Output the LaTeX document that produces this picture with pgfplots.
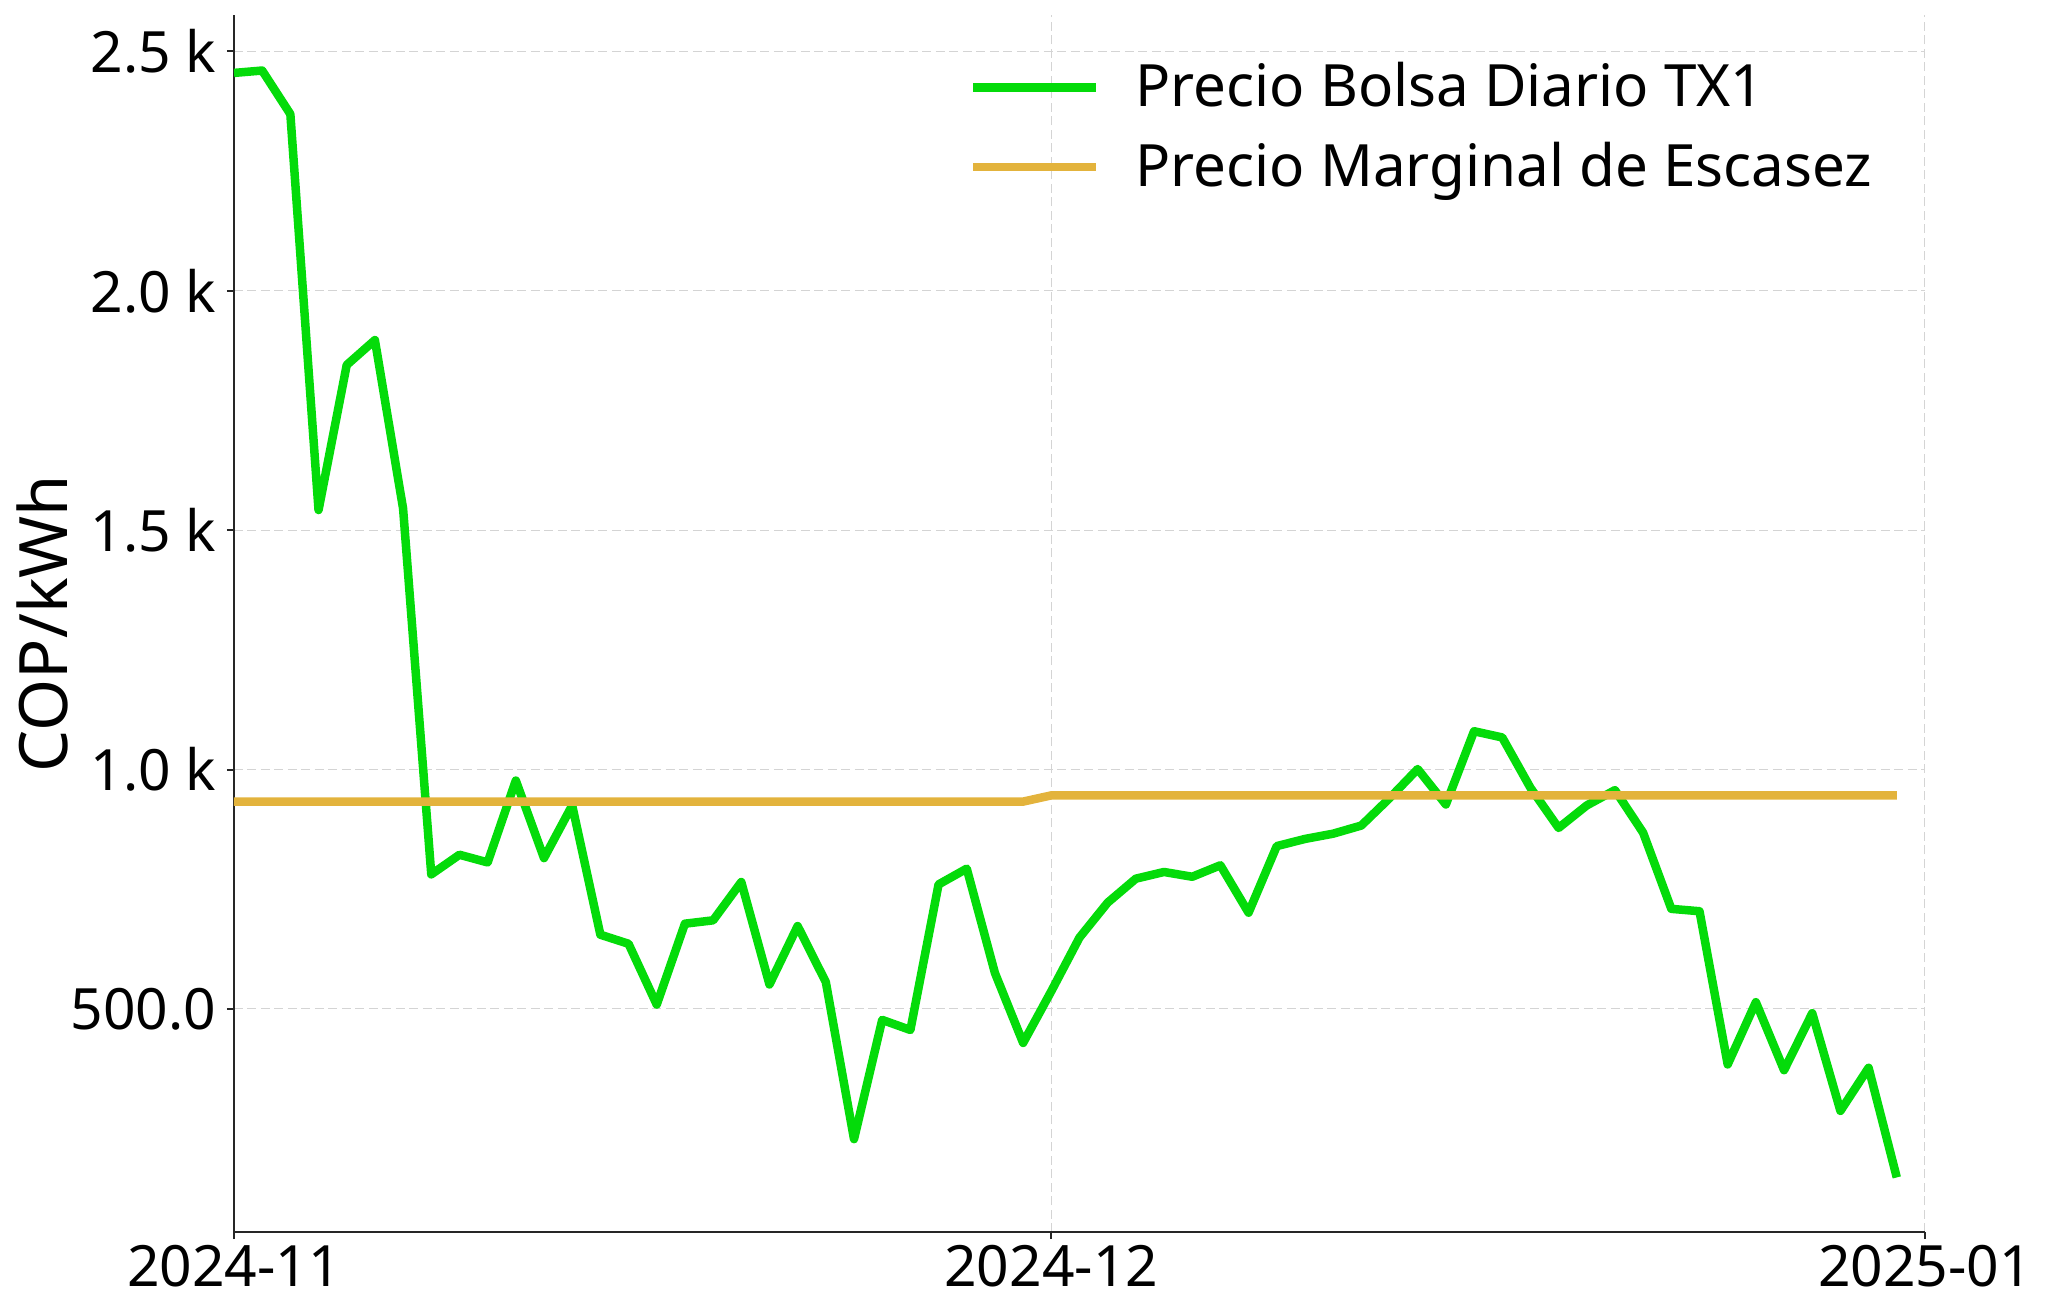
\documentclass[border=0pt]{standalone}
\usepackage{fontspec}
\setmainfont{Noto Sans}
\usepackage{pgfplots}
\pgfplotsset{compat=1.18}
\definecolor{bolsa}{RGB}{4,219,10}
\definecolor{escasez}{RGB}{227,179,60}
\newcommand{\tickfont}{\fontsize{16.2}{18}\selectfont}
\newcommand{\legfont}{\fontsize{16.6}{19}\selectfont}
\newcommand{\labfont}{\fontsize{19}{22}\selectfont}
\begin{document}
\begin{tikzpicture}
\path[use as bounding box] (-23.4mm,-7.7mm) rectangle (181.4mm,123.2mm);
\begin{axis}[
  at={(0,0)}, anchor=south west,
  scale only axis, width=169.1mm, height=121.7mm,
  xmin=0, xmax=60, ymin=34, ymax=2576,
  axis x line*=bottom, axis y line*=left,
  axis line style={-, line width=0.2mm, black!85},
  tick align=outside, major tick length=0.7mm,
  tick style={black!85, line width=0.2mm},
  xtick={0,29,60}, xticklabels={2024-11,2024-12,2025-01},
  ytick={500,1000,1500,2000,2500},
  yticklabels={500.0,1.0 k,1.5 k,2.0 k,2.5 k},
  xticklabel style={font=\tickfont, anchor=north, inner sep=0pt, yshift=-0.6mm},
  yticklabel style={font=\tickfont, anchor=east, inner sep=0pt, xshift=-1.0mm},
  grid=major,
  major grid style={line width=0.1mm, black!17, dash pattern=on 0.9mm off 0.45mm},
  ylabel={COP/kWh},
  ylabel style={font=\labfont, at={(axis description cs:-0.1135,0.5)}, anchor=center, rotate=0},
  legend cell align=left,
  legend image code/.code={\draw[#1] (0mm,1.9mm) -- (12.3mm,1.9mm);},
  legend style={at={(rel axis cs:0.4347,1)}, anchor=north west, yshift=-4.67mm,
    draw=none, fill=none, inner sep=0pt, outer sep=0pt, row sep=1.95mm,
    font=\legfont,
    nodes={inner sep=0pt, anchor=base west, text height=4.5mm, text depth=1.5mm},
    /tikz/every odd column/.append style={column sep=3.5mm}},
]
\addplot[bolsa, line width=0.85mm, line join=round] coordinates {
(0,2455) (1,2460) (2,2369) (3,1542) (4,1845) (5,1897) (6,1545) (7,781) (8,822) (9,806)
(10,977) (11,815) (12,925) (13,655) (14,636) (15,509) (16,678) (17,685) (18,765) (19,551)
(20,673) (21,556) (22,228) (23,477) (24,456) (25,760) (26,793) (27,575) (28,429) (29,537)
(30,649) (31,722) (32,772) (33,786) (34,776) (35,800) (36,701) (37,840) (38,855) (39,866)
(40,883) (41,940) (42,1001) (43,927) (44,1080) (45,1067) (46,962) (47,878) (48,925) (49,957)
(50,868) (51,709) (52,704) (53,384) (54,514) (55,372) (56,491) (57,287) (58,377) (59,148)
};
\addlegendentry{Precio Bolsa Diario TX1}
\addplot[escasez, line width=0.85mm, line join=round] coordinates {
(0,933) (1,933) (2,933) (3,933) (4,933) (5,933) (6,933) (7,933) (8,933) (9,933)
(10,933) (11,933) (12,933) (13,933) (14,933) (15,933) (16,933) (17,933) (18,933) (19,933)
(20,933) (21,933) (22,933) (23,933) (24,933) (25,933) (26,933) (27,933) (28,933) (29,946)
(30,946) (31,946) (32,946) (33,946) (34,946) (35,946) (36,946) (37,946) (38,946) (39,946)
(40,946) (41,946) (42,946) (43,946) (44,946) (45,946) (46,946) (47,946) (48,946) (49,946)
(50,946) (51,946) (52,946) (53,946) (54,946) (55,946) (56,946) (57,946) (58,946) (59,946)
};
\addlegendentry{Precio Marginal de Escasez}
\end{axis}
\end{tikzpicture}
\end{document}
